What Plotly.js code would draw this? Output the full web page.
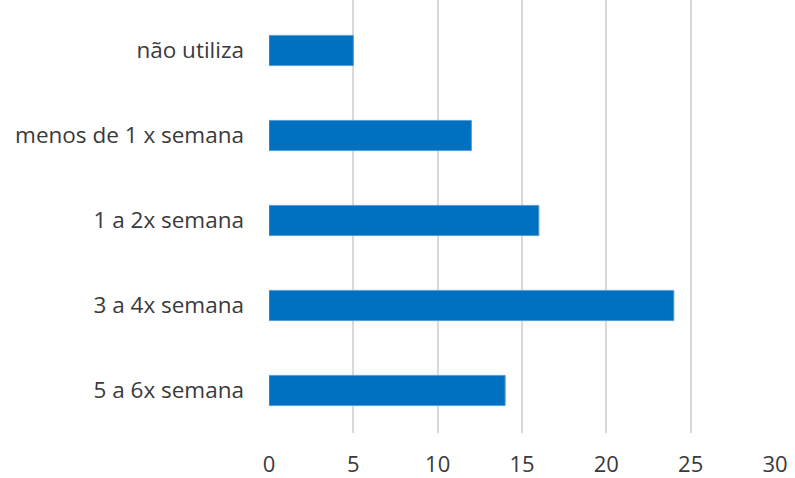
<!DOCTYPE html>
<html>
<head>
<meta charset="utf-8">
<script src="https://cdn.plot.ly/plotly-3.0.1.min.js"></script>
<style>html,body{margin:0;padding:0;background:#fff;}#chart{width:795px;height:478px;}</style>
</head>
<body>
<div id="chart"></div>
<script>
const categories = ["5 a 6x semana", "3 a 4x semana", "1 a 2x semana", "menos de 1 x semana", "não utiliza"];
const values = [14, 24, 16, 12, 5];
const xTicks = [0, 5, 10, 15, 20, 25, 30];

const trace = {
  type: "bar",
  orientation: "h",
  y: categories,
  x: values,
  marker: {color: "#0070c0", line: {color: "#5b9bd5", width: 1}},
  hoverinfo: "x+y"
};

const layout = {
  width: 795, height: 478,
  margin: {l: 269, r: 20, t: 0, b: 45},
  paper_bgcolor: "#fff", plot_bgcolor: "#fff",
  bargap: 0.645,
  font: {family: "Open Sans, Liberation Sans, sans-serif", size: 22, color: "#3a3a3a"},
  showlegend: false,
  xaxis: {
    range: [0, 30], tickvals: xTicks, ticktext: xTicks.map(String),
    showgrid: true, gridcolor: "#d9d9d9", gridwidth: 2,
    zeroline: false, showline: false, ticks: "",
    ticklabelstandoff: 16,
    tickfont: {size: 22, color: "#3a3a3a"}
  },
  yaxis: {
    type: "category", range: [-0.5, 4.594],
    showgrid: false, zeroline: false, showline: false, ticks: "",
    ticklabelstandoff: 24,
    tickfont: {size: 22.5, color: "#3a3a3a"}
  }
};

Plotly.newPlot("chart", [trace], layout, {displayModeBar: false, staticPlot: true});
</script>
</body>
</html>
